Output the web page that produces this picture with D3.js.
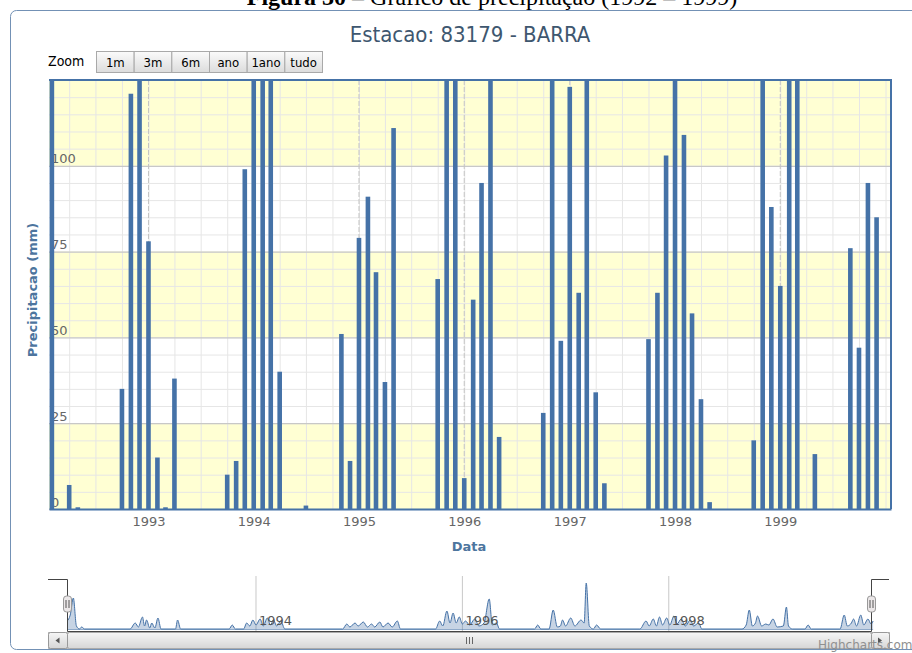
<!DOCTYPE html>
<html>
<head>
<meta charset="utf-8">
<script src="https://cdn.jsdelivr.net/npm/d3@7"></script>
<style>
  body { margin: 0; background: #fff; }
  svg { display: block; }
  .cond { font-family: "DejaVu Sans Condensed", "DejaVu Sans", sans-serif; font-stretch: condensed; }
</style>
</head>
<body>
<div class="chart"></div>
<script>
// monthly precipitation (mm), Jan..Dec, null = no data
const p1992 = [null, 180, 0, 7, 0.5, 0, 0, 0, 0, 35, 121, 140];
const p1993 = [78, 15, 0.5, 38, 0, 0, 0, 0, 0, 10, 14, 99];
const p1994 = [150, 165, 135, 40, 0, 0, 1, 0, 0, 0, 51, 14];
const p1995 = [79, 91, 69, 37, 111, 0, 0, 0, 0, 67, 170, 150];
const p1996 = [9, 61, 95, 200, 21, 0, 0, 0, 0, 28, 185, 49];
const p1997 = [123, 63, 290, 34, 7.5, 0, 0, 0, 0, 49.5, 63, 103];
const p1998 = [210, 109, 57, 32, 2, 0, 0, 0, 0, 20, 160, 88];
const p1999 = [65, 175, 230, 0, 16, 0, 0, 0, 76, 47, 95, 85];

const anos = [1992, 1993, 1994, 1995, 1996, 1997, 1998, 1999];
const yTicks = [0, 25, 50, 75, 100];
const navYears = [1994, 1996, 1998];
const zoomButtons = ["1m", "3m", "6m", "ano", "1ano", "tudo"];

// navigator series (averaged, as read from the small overview strip)
const navT = [
  1992.17, 1992.20, 1992.23, 1992.26, 1992.29, 1992.31, 1992.34,
  1992.78, 1992.83, 1992.86, 1992.90, 1992.92, 1992.94, 1992.97, 1992.99, 1993.02, 1993.05, 1993.08,
  1993.22, 1993.24, 1993.27, 1993.74, 1993.77, 1993.80,
  1993.88, 1993.91, 1993.94, 1993.97, 1994.00, 1994.04, 1994.07, 1994.11, 1994.14, 1994.17, 1994.20, 1994.24, 1994.28,
  1994.84, 1994.88, 1994.91, 1994.96, 1994.99, 1995.04, 1995.08, 1995.12, 1995.15, 1995.20, 1995.23, 1995.28, 1995.32, 1995.37, 1995.40,
  1995.74, 1995.78, 1995.81, 1995.85, 1995.88, 1995.91, 1995.94, 1995.97, 1996.00, 1996.03, 1996.07, 1996.12, 1996.16, 1996.21, 1996.26, 1996.29, 1996.33, 1996.36,
  1996.70, 1996.73, 1996.76, 1996.84, 1996.88, 1996.92, 1996.95, 1996.97, 1997.00, 1997.05, 1997.09, 1997.15, 1997.18, 1997.20, 1997.23, 1997.27, 1997.30, 1997.34,
  1997.72, 1997.78, 1997.81, 1997.85, 1997.88, 1997.91, 1997.94, 1997.98, 1998.01, 1998.05, 1998.08, 1998.12, 1998.16, 1998.21, 1998.24, 1998.29, 1998.32,
  1998.71, 1998.75, 1998.78, 1998.81, 1998.84, 1998.86, 1998.90, 1998.94, 1998.97, 1999.01, 1999.05, 1999.11, 1999.14, 1999.16, 1999.20,
  1999.32, 1999.35, 1999.38,
  1999.66, 1999.70, 1999.73, 1999.77, 1999.79, 1999.82, 1999.86, 1999.89, 1999.93, 1999.96, 1999.98
];
const navV = [
  8, 14, 31, 3, 0, 2, 0,
  0, 6, 2, 12, 3, 9, 1, 6, 1, 11, 0,
  0, 9, 0, 0, 4, 0,
  0, 6, 3, 9, 4, 10, 3, 11, 4, 9, 3, 8, 0,
  0, 5, 2, 6, 3, 7, 2, 5, 2, 7, 2, 6, 2, 8, 0,
  0, 8, 3, 18, 6, 16, 6, 12, 5, 8, 4, 10, 3, 6, 30, 4, 6, 0,
  0, 4, 0, 0, 19, 2, 3, 9, 3, 11, 3, 9, 6, 46, 3, 0, 4, 0,
  0, 8, 3, 10, 3, 12, 4, 11, 4, 13, 5, 10, 3, 9, 3, 6, 0,
  0, 4, 19, 3, 6, 13, 3, 5, 4, 10, 2, 3, 22, 3, 0,
  0, 4, 0,
  0, 14, 3, 6, 10, 3, 14, 4, 10, 5, 8
];

const porAno = [p1992, p1993, p1994, p1995, p1996, p1997, p1998, p1999];
const data = [];
porAno.forEach((vals, i) => {
  vals.forEach((v, m) => {
    if (v !== null) data.push({ date: new Date(anos[i], m, 1), value: v });
  });
});
const navData = navT.map((t, i) => ({ t: t, value: navV[i] }));

const W = 912, H = 653;
const plot = { left: 49, right: 891, top: 80, bottom: 509 };
const blue = "#4572A7";

const svg = d3.select(".chart").append("svg").attr("width", W).attr("height", H);

// figure caption (cut at the top of the picture, as in the source)
const cap = svg.append("text")
  .attr("x", 492).attr("y", 5)
  .attr("text-anchor", "middle")
  .style("font-family", "'Liberation Serif', serif")
  .style("font-size", "24px");
cap.append("tspan").style("font-weight", "bold").text("Figura 30");
cap.append("tspan").text(" – Gráfico de precipitação (1992 – 1999)");

// chart frame
svg.append("rect")
  .attr("x", 10.5).attr("y", 10.5)
  .attr("width", 930).attr("height", 639)
  .attr("rx", 6)
  .attr("fill", "#fff")
  .attr("stroke", "#7391b5");

// title
svg.append("text")
  .attr("class", "cond")
  .attr("x", 470).attr("y", 42)
  .attr("text-anchor", "middle")
  .style("font-size", "22px")
  .attr("fill", "#3E576F")
  .text("Estacao: 83179 - BARRA");

// zoom buttons
svg.append("text")
  .attr("class", "cond")
  .attr("x", 48).attr("y", 66)
  .style("font-size", "14px")
  .attr("fill", "#000")
  .text("Zoom");

const defs = svg.append("defs");
const grad = defs.append("linearGradient").attr("id", "btn").attr("x1", 0).attr("x2", 0).attr("y1", 0).attr("y2", 1);
grad.append("stop").attr("offset", "0%").attr("stop-color", "#fbfbfb");
grad.append("stop").attr("offset", "100%").attr("stop-color", "#dcdcdc");

const btnX = d3.scaleBand().domain(zoomButtons).range([96, 322]);
const btn = svg.append("g").selectAll("g").data(zoomButtons).join("g")
  .attr("transform", (d) => `translate(${btnX(d)},51)`);
btn.append("rect")
  .attr("x", 0.5).attr("y", 0.5)
  .attr("width", btnX.bandwidth()).attr("height", 21)
  .attr("fill", "url(#btn)")
  .attr("stroke", "#a9a9a9");
btn.append("text")
  .attr("class", "cond")
  .attr("x", btnX.bandwidth() / 2 + 0.5).attr("y", 15.5)
  .attr("text-anchor", "middle")
  .style("font-size", "13px")
  .attr("fill", "#000")
  .text((d) => d);

// scales
const x = d3.scaleTime()
  .domain([new Date(1992, 0, 22), new Date(2000, 0, 20)])
  .range([plot.left, plot.right]);
const y = d3.scaleLinear().domain([0, 125]).range([plot.bottom, plot.top]);

// plot bands
const bands = [[0, 25], [50, 75], [100, 125]];
svg.append("g").selectAll("rect").data(bands).join("rect")
  .attr("x", plot.left).attr("width", plot.right - plot.left)
  .attr("y", (d) => y(d[1])).attr("height", (d) => y(d[0]) - y(d[1]))
  .attr("fill", "#ffffd3");

// minor grid
const minorY = svg.append("g")
  .attr("transform", `translate(${plot.left},0)`)
  .call(d3.axisLeft(y).tickValues(d3.range(5, 125, 5)).tickSize(-(plot.right - plot.left)).tickFormat(""));
minorY.select(".domain").remove();
minorY.selectAll("line").attr("stroke", "#e6e6e6");

const minorX = svg.append("g")
  .attr("transform", `translate(0,${plot.bottom})`)
  .call(d3.axisBottom(x).ticks(d3.timeMonth.every(3)).tickSize(-(plot.bottom - plot.top)).tickFormat(""));
minorX.select(".domain").remove();
minorX.selectAll("line").attr("stroke", "#e6e6e6");

// major grid
const majorY = svg.append("g")
  .attr("transform", `translate(${plot.left},0)`)
  .call(d3.axisLeft(y).tickValues(yTicks.concat([125])).tickSize(-(plot.right - plot.left)).tickFormat(""));
majorY.select(".domain").remove();
majorY.selectAll("line").attr("stroke", "#c0c0c0");

// year lines (dashed)
const yearDates = anos.slice(1).map((a) => new Date(a, 0, 1));
svg.append("g").selectAll("line").data(yearDates).join("line")
  .attr("x1", (d) => x(d)).attr("x2", (d) => x(d))
  .attr("y1", plot.top).attr("y2", plot.bottom)
  .attr("stroke", "#c4c4c4")
  .attr("stroke-dasharray", "5,2");

// y labels, drawn inside the plot
const yAxis = svg.append("g")
  .attr("transform", `translate(${plot.left},0)`)
  .call(d3.axisRight(y).tickValues(yTicks).tickSize(0).tickPadding(2));
yAxis.select(".domain").remove();
yAxis.selectAll("text")
  .attr("dy", -3)
  .style("font-family", "'DejaVu Sans', sans-serif")
  .style("font-size", "13px")
  .attr("fill", "#666");

// columns
svg.append("clipPath").attr("id", "plotClip")
  .append("rect")
  .attr("x", plot.left).attr("y", plot.top)
  .attr("width", plot.right - plot.left).attr("height", plot.bottom - plot.top);

svg.append("g")
  .attr("clip-path", "url(#plotClip)")
  .selectAll("rect")
  .data(data.filter((d) => d.value > 0))
  .join("rect")
  .attr("x", (d) => x(d.date) - 2.3)
  .attr("width", 4.6)
  .attr("y", (d) => y(d.value))
  .attr("height", (d) => plot.bottom - y(d.value))
  .attr("fill", blue);

// plot border
svg.append("path")
  .attr("d", `M${plot.left},${plot.top}H${plot.right}V${plot.bottom}`)
  .attr("fill", "none")
  .attr("stroke", blue)
  .attr("stroke-width", 2);

// x axis
const xAxis = svg.append("g")
  .attr("transform", `translate(0,${plot.bottom})`)
  .call(d3.axisBottom(x).tickValues(yearDates).tickSize(0).tickPadding(8).tickFormat(d3.timeFormat("%Y")));
xAxis.select(".domain").attr("stroke", blue).attr("stroke-width", 2);
xAxis.selectAll("text")
  .style("font-family", "'DejaVu Sans', sans-serif")
  .style("font-size", "13px")
  .attr("fill", "#666");

// axis titles
svg.append("text")
  .attr("x", 469).attr("y", 551)
  .attr("text-anchor", "middle")
  .style("font-family", "'DejaVu Sans', sans-serif")
  .style("font-size", "13px")
  .style("font-weight", "bold")
  .attr("fill", "#4d759e")
  .text("Data");

svg.append("text")
  .attr("transform", "translate(37,290) rotate(-90)")
  .attr("text-anchor", "middle")
  .style("font-family", "'DejaVu Sans', sans-serif")
  .style("font-size", "13px")
  .style("font-weight", "bold")
  .attr("fill", "#4d759e")
  .text("Precipitacao (mm)");

// navigator
const nav = { left: 48, right: 889, top: 579, bottom: 631 };
const navX = d3.scaleLinear().domain([1991.9845, 2000.134]).range([nav.left, nav.right]);
const navY = d3.scaleLinear().domain([0, d3.max(navV)]).range([629, 583]);

const navG = svg.append("g");
navG.selectAll("line.yr").data(navYears).join("line")
  .attr("class", "yr")
  .attr("x1", (d) => navX(d)).attr("x2", (d) => navX(d))
  .attr("y1", nav.top - 3).attr("y2", nav.bottom)
  .attr("stroke", "#c8c8c8");

navG.append("path")
  .datum(navData)
  .attr("fill", blue).attr("fill-opacity", 0.3)
  .attr("d", d3.area().curve(d3.curveMonotoneX).x((d) => navX(d.t)).y0(629).y1((d) => navY(d.value)));
navG.append("path")
  .datum(navData)
  .attr("fill", "none").attr("stroke", blue).attr("stroke-width", 1)
  .attr("d", d3.line().curve(d3.curveMonotoneX).x((d) => navX(d.t)).y((d) => navY(d.value)));
navG.append("line")
  .attr("x1", navX(navT[0])).attr("x2", navX(navT[navT.length - 1]))
  .attr("y1", 629.5).attr("y2", 629.5)
  .attr("stroke", blue).attr("stroke-opacity", 0.6);

navG.selectAll("text.yr").data(navYears).join("text")
  .attr("class", "yr")
  .attr("x", (d) => navX(d) + 3)
  .attr("y", 625)
  .style("font-family", "'DejaVu Sans', sans-serif")
  .style("font-size", "13px")
  .attr("fill", "#555")
  .text((d) => d);

// navigator outline
const hL = 67, hR = 871;
navG.append("path")
  .attr("d", `M${nav.left},${nav.top + 0.5}H${hL + 0.5}V${nav.bottom + 0.5}H${hR + 0.5}V${nav.top + 0.5}H${nav.right}`)
  .attr("fill", "none").attr("stroke", "#444");

// scrollbar
const sb = { top: 632, h: 16 };
const sgrad = defs.append("linearGradient").attr("id", "sbar").attr("x1", 0).attr("x2", 0).attr("y1", 0).attr("y2", 1);
sgrad.append("stop").attr("offset", "0%").attr("stop-color", "#f6f6f6");
sgrad.append("stop").attr("offset", "100%").attr("stop-color", "#d6d6d6");
svg.append("rect")
  .attr("x", nav.left + 0.5).attr("y", sb.top + 0.5)
  .attr("width", nav.right - nav.left).attr("height", sb.h)
  .attr("fill", "#eee").attr("stroke", "#bbb");
svg.append("rect")
  .attr("x", hL + 0.5).attr("y", sb.top + 0.5)
  .attr("width", hR - hL).attr("height", sb.h)
  .attr("rx", 2)
  .attr("fill", "url(#sbar)").attr("stroke", "#aaa");
[[nav.left, hL], [hR, nav.right]].forEach(([a, b], i) => {
  svg.append("rect")
    .attr("x", a + 0.5).attr("y", sb.top + 0.5)
    .attr("width", b - a).attr("height", sb.h)
    .attr("rx", 2)
    .attr("fill", "url(#sbar)").attr("stroke", "#999");
  const cx = (a + b) / 2, cy = sb.top + sb.h / 2 + 0.5;
  svg.append("path")
    .attr("d", i === 0
      ? `M${cx + 2},${cy - 3}L${cx - 2},${cy}L${cx + 2},${cy + 3}Z`
      : `M${cx - 2},${cy - 3}L${cx + 2},${cy}L${cx - 2},${cy + 3}Z`)
    .attr("fill", "#555");
});
const gx = (hL + hR) / 2;
[-3, 0, 3].forEach((o) => {
  svg.append("line")
    .attr("x1", gx + o + 0.5).attr("x2", gx + o + 0.5)
    .attr("y1", sb.top + 5).attr("y2", sb.top + 12)
    .attr("stroke", "#666");
});

// handles
[hL, hR].forEach((hx) => {
  const g = svg.append("g").attr("transform", `translate(${hx + 0.5},596)`);
  g.append("rect")
    .attr("x", -4).attr("y", 0).attr("width", 8).attr("height", 16).attr("rx", 3)
    .attr("fill", "#ebe7e8").attr("stroke", "#999");
  g.append("path").attr("d", "M-1.5,4V12M1.5,4V12").attr("stroke", "#555");
});

// credits
svg.append("text")
  .attr("x", 818).attr("y", 649)
  .style("font-family", "'DejaVu Sans', sans-serif")
  .style("font-size", "12px")
  .attr("fill", "#909090")
  .text("Highcharts.com");
</script>
</body>
</html>
